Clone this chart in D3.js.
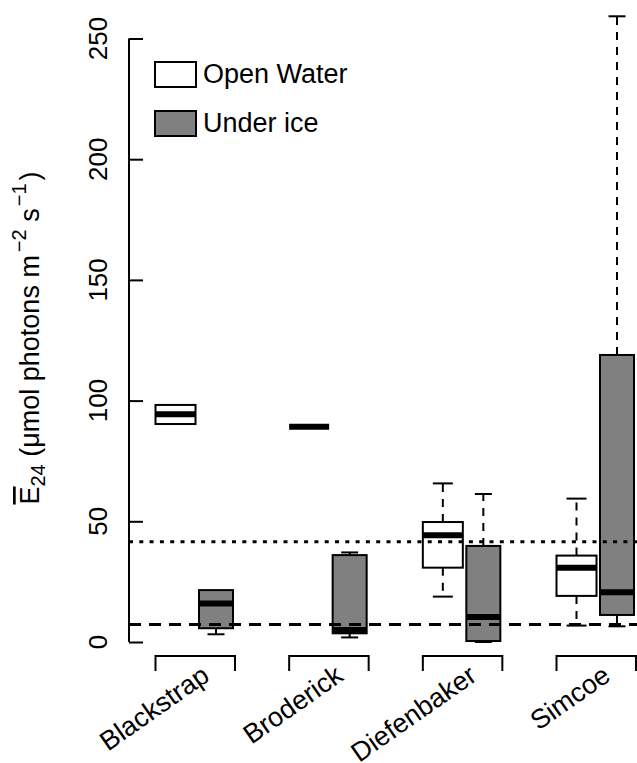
<!DOCTYPE html>
<html>
<head>
<meta charset="utf-8">
<script src="https://cdn.jsdelivr.net/npm/d3@7"></script>
<style>
  body { margin: 0; background: #fff; }
  text { font-family: "Liberation Sans", Arial, sans-serif; fill: #000; }
</style>
</head>
<body>
<div id="chart"></div>
<script>
// lagos
const lakes = ["Blackstrap", "Broderick", "Diefenbaker", "Simcoe"];

// open water: bigote inf, Q1, mediana, Q3, bigote sup
const owLow  = [90.3, 89.2, 18.8, 6.8];
const owQ1   = [90.3, 89.2, 30.8, 19.1];
const owMed  = [94.3, 89.2, 44.2, 30.8];
const owQ3   = [98.2, 89.2, 49.7, 35.8];
const owHigh = [98.2, 89.2, 65.7, 59.4];

// under ice
const iceLow  = [3.2, 1.9, 0.0, 6.5];
const iceQ1   = [5.7, 3.6, 0.4, 11.2];
const iceMed  = [16.0, 5.0, 10.4, 20.6];
const iceQ3   = [21.5, 36.0, 39.8, 118.9];
const iceHigh = [21.5, 37.1, 61.3, 259.2];

// lineas de referencia
const dottedRef = 41.5;
const dashedRef = 7.3;

const yTicks = [0, 50, 100, 150, 200, 250];
const legendLabels = ["Open Water", "Under ice"];
const fills = ["#ffffff", "#808080"];

const width = 637, height = 763;
const axisX = 129;

const svg = d3.select("#chart").append("svg")
  .attr("width", width).attr("height", height);

const y = d3.scaleLinear().domain([0, 250]).range([642, 38.5]);
const x = d3.scalePoint().domain(lakes).range([195, 596]);

// series: offset dentro del grupo y ancho
const series = [
  { name: "open", off: -19.5, w: 40, fill: fills[0],
    low: owLow, q1: owQ1, med: owMed, q3: owQ3, high: owHigh },
  { name: "ice", off: 21, w: 34, fill: fills[1],
    low: iceLow, q1: iceQ1, med: iceMed, q3: iceQ3, high: iceHigh }
];

const boxes = [];
series.forEach(s => {
  lakes.forEach((lake, i) => {
    boxes.push({
      cx: x(lake) + s.off, w: s.w, fill: s.fill,
      low: s.low[i], q1: s.q1[i], med: s.med[i], q3: s.q3[i], high: s.high[i]
    });
  });
});

const g = svg.append("g");

boxes.forEach(b => {
  // bigotes
  if (b.high > b.q3) {
    g.append("line")
      .attr("x1", b.cx).attr("x2", b.cx)
      .attr("y1", y(b.q3)).attr("y2", y(b.high))
      .attr("stroke", "#000").attr("stroke-width", 2).attr("stroke-dasharray", "8,7");
    g.append("line")
      .attr("x1", b.cx - b.w / 4).attr("x2", b.cx + b.w / 4)
      .attr("y1", y(b.high)).attr("y2", y(b.high))
      .attr("stroke", "#000").attr("stroke-width", 2);
  }
  if (b.low < b.q1) {
    g.append("line")
      .attr("x1", b.cx).attr("x2", b.cx)
      .attr("y1", y(b.q1)).attr("y2", y(b.low))
      .attr("stroke", "#000").attr("stroke-width", 2).attr("stroke-dasharray", "8,7");
    g.append("line")
      .attr("x1", b.cx - b.w / 4).attr("x2", b.cx + b.w / 4)
      .attr("y1", y(b.low)).attr("y2", y(b.low))
      .attr("stroke", "#000").attr("stroke-width", 2);
  }
  // caja
  g.append("rect")
    .attr("x", b.cx - b.w / 2).attr("width", b.w)
    .attr("y", y(b.q3)).attr("height", y(b.q1) - y(b.q3))
    .attr("fill", b.fill).attr("stroke", "#000").attr("stroke-width", 2);
  // mediana
  g.append("line")
    .attr("x1", b.cx - b.w / 2).attr("x2", b.cx + b.w / 2)
    .attr("y1", y(b.med)).attr("y2", y(b.med))
    .attr("stroke", "#000").attr("stroke-width", 6);
});

// lineas horizontales
svg.append("line")
  .attr("x1", axisX).attr("x2", width)
  .attr("y1", y(dottedRef)).attr("y2", y(dottedRef))
  .attr("stroke", "#000").attr("stroke-width", 3).attr("stroke-dasharray", "4,6.3");
svg.append("line")
  .attr("x1", axisX).attr("x2", width)
  .attr("y1", y(dashedRef)).attr("y2", y(dashedRef))
  .attr("stroke", "#000").attr("stroke-width", 3).attr("stroke-dasharray", "12,8");

// eje y (ticks hacia adentro)
const yAxis = d3.axisRight(y).tickValues(yTicks).tickSize(14).tickFormat("");
svg.append("g")
  .attr("transform", `translate(${axisX},0)`)
  .call(yAxis)
  .call(a => a.select(".domain").attr("d", `M0,${y(0)}V${y(250)}`).attr("stroke-width", 2))
  .call(a => a.selectAll(".tick line").attr("stroke-width", 2));

svg.selectAll(".ylab").data(yTicks).enter().append("text")
  .attr("transform", d => `translate(107,${y(d)}) rotate(-90)`)
  .attr("text-anchor", "middle")
  .style("font-size", "26px")
  .text(d => d);

// eje x: corchetes por lago
lakes.forEach(lake => {
  const x0 = x(lake) + series[0].off - series[0].w / 2;
  const x1 = x(lake) + series[1].off + series[1].w / 2 + 2;
  svg.append("path")
    .attr("d", `M${x0},671V656H${x1}V671`)
    .attr("fill", "none").attr("stroke", "#000").attr("stroke-width", 2);
  svg.append("text")
    .attr("transform", `translate(${x(lake) + 11},672) rotate(-35)`)
    .attr("text-anchor", "end")
    .attr("dominant-baseline", "central")
    .style("font-size", "27px")
    .text(lake);
});

// leyenda
legendLabels.forEach((lab, i) => {
  svg.append("rect")
    .attr("x", 155).attr("y", 62 + i * 49)
    .attr("width", 41).attr("height", 25)
    .attr("fill", fills[i]).attr("stroke", "#000").attr("stroke-width", 2);
  svg.append("text")
    .attr("x", 203).attr("y", 83 + i * 49)
    .style("font-size", "27px")
    .text(lab);
});

// titulo eje y
const yt = svg.append("text")
  .attr("transform", "translate(39,338) rotate(-90)")
  .attr("text-anchor", "middle")
  .style("font-size", "27px");
yt.append("tspan").style("text-decoration", "overline").text("E");
yt.append("tspan").attr("dy", 6).style("font-size", "20px").text("24");
yt.append("tspan").attr("dy", -6).text(" (\u03bcmol photons m");
yt.append("tspan").attr("dx", 3).attr("dy", -13).style("font-size", "20px").text("\u22122");
yt.append("tspan").attr("dy", 13).text(" s");
yt.append("tspan").attr("dx", 2).attr("dy", -13).style("font-size", "20px").text("\u22121");
yt.append("tspan").attr("dx", 3).attr("dy", 13).text(")");
</script>
</body>
</html>
